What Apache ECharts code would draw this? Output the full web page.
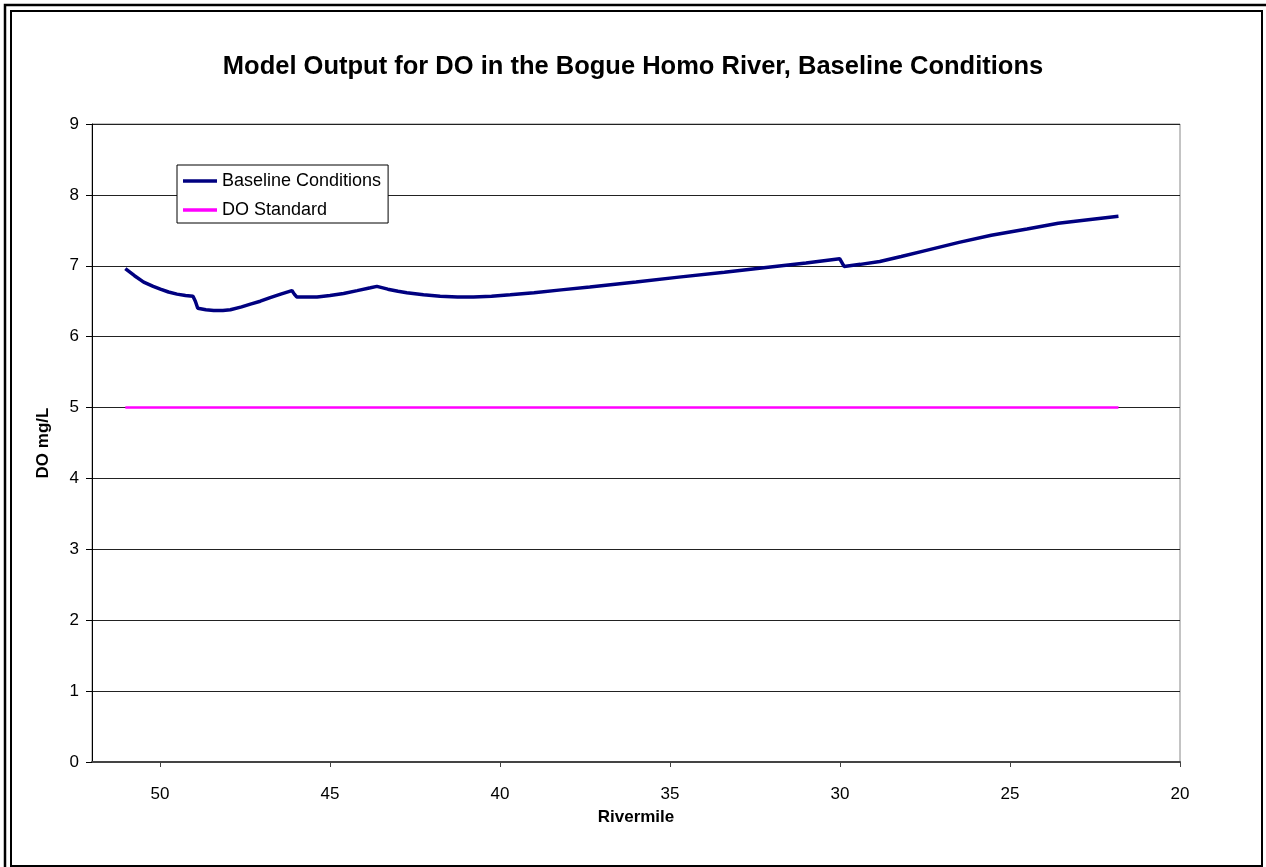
<!DOCTYPE html>
<html>
<head>
<meta charset="utf-8">
<script src="https://cdn.jsdelivr.net/npm/echarts@6/dist/echarts.min.js"></script>
<style>
html,body{margin:0;padding:0;background:#fff;}
#chart{width:1266px;height:867px;}
</style>
</head>
<body>
<div id="chart"></div>
<script>
// ---- data ----
const titleText = 'Model Output for DO in the Bogue Homo River, Baseline Conditions';
const seriesNames = ['Baseline Conditions', 'DO Standard'];
const riverMile = [51.02,50.75,50.48,50.20,49.99,49.75,49.50,49.25,49.03,48.96,48.89,48.65,48.42,48.15,47.93,47.60,47.34,47.05,46.76,46.45,46.12,46.05,45.98,45.70,45.38,45.00,44.60,44.20,43.81,43.62,43.30,43.00,42.74,42.25,41.76,41.25,40.78,40.25,39.70,39.00,38.20,37.36,36.00,34.74,33.40,32.11,31.00,30.01,29.88,29.40,28.83,28.20,27.52,26.50,25.55,24.50,23.58,22.70,21.81];
const doBaseline = [6.96,6.86,6.77,6.71,6.67,6.63,6.60,6.58,6.57,6.50,6.40,6.38,6.37,6.37,6.38,6.42,6.46,6.50,6.55,6.60,6.65,6.60,6.56,6.56,6.56,6.58,6.61,6.65,6.69,6.71,6.67,6.64,6.62,6.59,6.57,6.56,6.56,6.57,6.59,6.62,6.66,6.70,6.77,6.84,6.91,6.98,7.04,7.10,6.99,7.02,7.06,7.13,7.21,7.33,7.43,7.52,7.60,7.65,7.70];
const standardMile = [51.02, 21.81];
const standardValue = [5, 5];
const xAxisName = 'Rivermile';
const yAxisName = 'DO mg/L';

const FONT = '"Liberation Sans", Arial, sans-serif';
const chart = echarts.init(document.getElementById('chart'), null, {renderer: 'canvas'});

const baselineData = riverMile.map((m, i) => [m, doBaseline[i]]);
const standardData = standardMile.map((m, i) => [m, standardValue[i]]);

chart.setOption({
  backgroundColor: '#fff',
  animation: false,
  title: {
    text: titleText,
    left: 'center',
    top: 54,
    padding: 0,
    textStyle: {fontFamily: FONT, fontSize: 25.5, fontWeight: 'bold', color: '#000'}
  },
  legend: {
    orient: 'vertical',
    left: 177,
    top: 165,
    padding: [7, 7, 4, 6],
    itemGap: 11,
    itemWidth: 34,
    itemHeight: 3.5,
    icon: 'rect',
    borderColor: '#000',
    borderWidth: 1,
    backgroundColor: '#fff',
    textStyle: {fontFamily: FONT, fontSize: 18, color: '#000'},
    data: seriesNames
  },
  grid: {
    left: 92, right: 86, top: 124, bottom: 105,
    show: true, borderColor: '#888', borderWidth: 1,
    containLabel: false
  },
  xAxis: {
    type: 'value',
    inverse: true,
    min: 20, max: 52, interval: 5,
    name: xAxisName,
    nameLocation: 'middle',
    nameGap: 47,
    nameTextStyle: {fontFamily: FONT, fontSize: 17, fontWeight: 'bold', color: '#000'},
    axisLine: {show: true, lineStyle: {color: '#444', width: 2}},
    axisTick: {show: true, inside: false, length: 5, lineStyle: {color: '#444', width: 1}},
    axisLabel: {fontFamily: FONT, fontSize: 17, color: '#000', margin: 24, showMaxLabel: false},
    splitLine: {show: false}
  },
  yAxis: {
    type: 'value',
    min: 0, max: 9, interval: 1,
    name: yAxisName,
    nameLocation: 'middle',
    nameRotate: 90,
    nameGap: 40,
    nameTextStyle: {fontFamily: FONT, fontSize: 17, fontWeight: 'bold', color: '#000'},
    axisLine: {show: true, lineStyle: {color: '#000', width: 1}},
    axisTick: {show: true, inside: false, length: 6, lineStyle: {color: '#000', width: 1}},
    axisLabel: {fontFamily: FONT, fontSize: 17, color: '#000', margin: 13},
    splitLine: {show: true, lineStyle: {color: '#222', width: 1}}
  },
  series: [
    {
      name: seriesNames[0],
      type: 'line',
      data: baselineData,
      symbol: 'none',
      smooth: false,
      lineStyle: {color: '#000080', width: 3.5},
      itemStyle: {color: '#000080'},
      z: 3
    },
    {
      name: seriesNames[1],
      type: 'line',
      data: standardData,
      symbol: 'none',
      lineStyle: {color: '#FF00FF', width: 2.5},
      itemStyle: {color: '#FF00FF'},
      z: 2
    }
  ],
  graphic: [
    {type: 'rect', silent: true, z: 100, shape: {x: 5, y: 5, width: 1275, height: 875}, style: {fill: 'none', stroke: '#000', lineWidth: 2.5}},
    {type: 'rect', silent: true, z: 100, shape: {x: 11, y: 11, width: 1251, height: 855}, style: {fill: 'none', stroke: '#000', lineWidth: 2}}
  ]
});
</script>
</body>
</html>
